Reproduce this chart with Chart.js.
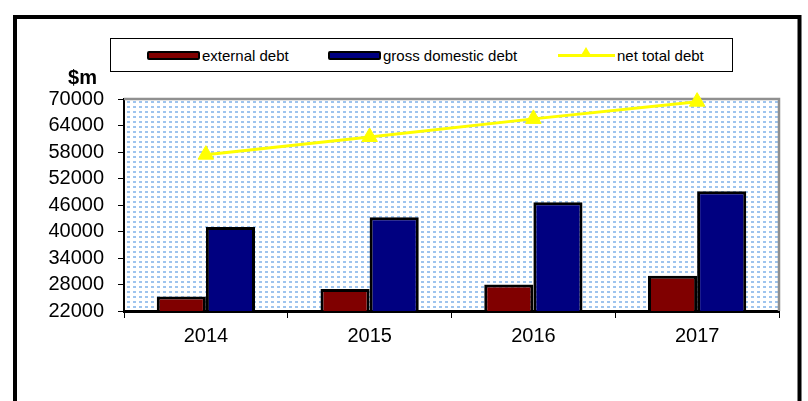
<!DOCTYPE html>
<html>
<head>
<meta charset="utf-8">
<script src="https://cdn.jsdelivr.net/npm/chart.js@4.4.1/dist/chart.umd.min.js"></script>
<style>
  html, body { margin: 0; padding: 0; background: #fff; }
  #wrap { position: relative; width: 808px; height: 401px; overflow: hidden; }
  #chart { position: absolute; left: 0; top: 0; }
  #legend {
    position: absolute; left: 110px; top: 38px; width: 621px; height: 32px;
    border: 1px solid #000; background: #fff;
    font-family: Arial, "Liberation Sans", sans-serif; font-size: 15px; color: #000;
  }
  .item { position: absolute; top: 0; height: 32px; display: flex; align-items: center; white-space: nowrap; }
  .swatch { width: 49px; height: 5px; border: 2px solid #000; border-radius: 2px; margin-right: 2px; }
  .lineSwatch { position: relative; width: 57px; height: 3px; margin-right: 2px; }
  .lineSwatch .tri {
    position: absolute; left: 22px; top: -7px; width: 0; height: 0;
    border-left: 6px solid transparent; border-right: 6px solid transparent;
  }
</style>
</head>
<body>
<div id="wrap">
  <canvas id="chart" width="808" height="401"></canvas>
  <div id="legend"></div>
</div>
<script>
// data
const years = ["2014", "2015", "2016", "2017"];
const externalDebt = [25300, 27000, 28000, 30000];
const grossDomesticDebt = [41000, 43200, 46600, 49100];
const netTotalDebt = [57400, 61400, 65500, 69400];
const yTicks = [22000, 28000, 34000, 40000, 46000, 52000, 58000, 64000, 70000];
const seriesNames = ["external debt", "gross domestic debt", "net total debt"];
const seriesColors = ["#800000", "#000080", "#ffff00"];

// html legend, same look as the excel one
const legend = document.getElementById("legend");
const itemLeft = [36, 217, 447];
seriesNames.forEach((name, i) => {
  const item = document.createElement("div");
  item.className = "item";
  item.style.left = itemLeft[i] + "px";
  let sw;
  if (i < 2) {
    sw = document.createElement("div");
    sw.className = "swatch";
    sw.style.background = seriesColors[i];
  } else {
    sw = document.createElement("div");
    sw.className = "lineSwatch";
    sw.style.background = seriesColors[i];
    const tri = document.createElement("div");
    tri.className = "tri";
    tri.style.borderBottom = "10px solid " + seriesColors[i];
    sw.appendChild(tri);
  }
  item.appendChild(sw);
  const txt = document.createElement("span");
  txt.textContent = name;
  item.appendChild(txt);
  legend.appendChild(item);
});

// light blue dotted fill like the excel plot area
function dotPattern(ctx) {
  const c = document.createElement("canvas");
  c.width = 6; c.height = 5;
  const g = c.getContext("2d");
  g.fillStyle = "#ffffff";
  g.fillRect(0, 0, 6, 5);
  g.fillStyle = "#9ec4ee";
  g.fillRect(1, 1, 3, 2);
  return ctx.createPattern(c, "repeat");
}

const decor = {
  id: "decor",
  beforeDraw(chart) {
    const { ctx, chartArea: a } = chart;
    ctx.save();
    ctx.fillStyle = "#fff";
    ctx.fillRect(0, 0, chart.width, chart.height);
    ctx.lineWidth = 4;
    ctx.strokeStyle = "#000";
    ctx.strokeRect(15, 17, 784.5, 420);
    ctx.fillStyle = dotPattern(ctx);
    ctx.fillRect(a.left, a.top, a.right - a.left, a.bottom - a.top);
    ctx.restore();
  },
  beforeDatasetsDraw(chart) {
    const { ctx, chartArea: a } = chart;
    ctx.save();
    ctx.strokeStyle = "#909090";
    ctx.lineWidth = 2.5;
    ctx.beginPath();
    ctx.moveTo(a.left, a.top);
    ctx.lineTo(a.right, a.top);
    ctx.lineTo(a.right, a.bottom);
    ctx.stroke();
    ctx.restore();
  },
  afterDraw(chart) {
    const ctx = chart.ctx;
    ctx.save();
    ctx.font = "bold 20px Arial, 'Liberation Sans', sans-serif";
    ctx.fillStyle = "#000";
    ctx.textAlign = "right";
    ctx.textBaseline = "middle";
    ctx.fillText("$m", 97, 78);
    ctx.restore();
  }
};

const tickFont = { family: "Arial, 'Liberation Sans', sans-serif", size: 20 };

new Chart(document.getElementById("chart"), {
  type: "bar",
  data: {
    labels: years,
    datasets: [
      {
        label: seriesNames[0], data: externalDebt, backgroundColor: seriesColors[0],
        borderColor: "#000", borderWidth: 3, borderSkipped: false,
        barPercentage: 1, categoryPercentage: 0.6
      },
      {
        label: seriesNames[1], data: grossDomesticDebt, backgroundColor: seriesColors[1],
        borderColor: "#000", borderWidth: 3, borderSkipped: false,
        barPercentage: 1, categoryPercentage: 0.6
      },
      {
        type: "line", label: seriesNames[2], data: netTotalDebt,
        borderColor: seriesColors[2], borderWidth: 3,
        pointStyle: "triangle", pointRadius: 9, pointHoverRadius: 9,
        pointBackgroundColor: seriesColors[2], pointBorderColor: seriesColors[2],
        pointBorderWidth: 1, clip: false, order: -1, tension: 0
      }
    ]
  },
  options: {
    responsive: false,
    animation: false,
    devicePixelRatio: 1,
    layout: { padding: { left: 0, right: 29, top: 99, bottom: 0 } },
    plugins: { legend: { display: false }, tooltip: { enabled: false } },
    scales: {
      x: {
        grid: { offset: true, drawOnChartArea: false, tickLength: 7, color: "#000", lineWidth: 1 },
        border: { color: "#000", width: 3 },
        ticks: { font: tickFont, color: "#000", padding: 6, maxRotation: 0 },
        afterFit: s => { s.height = 90; }
      },
      y: {
        min: 22000, max: 70000,
        afterBuildTicks: s => { s.ticks = yTicks.map(v => ({ value: v })); },
        grid: { drawOnChartArea: false, tickLength: 6, color: "#000", lineWidth: 1 },
        border: { color: "#000", width: 2 },
        ticks: { font: tickFont, color: "#000", padding: 14, autoSkip: false, callback: v => String(v) },
        afterFit: s => { s.width = 124; }
      }
    }
  },
  plugins: [decor]
});
</script>
</body>
</html>
